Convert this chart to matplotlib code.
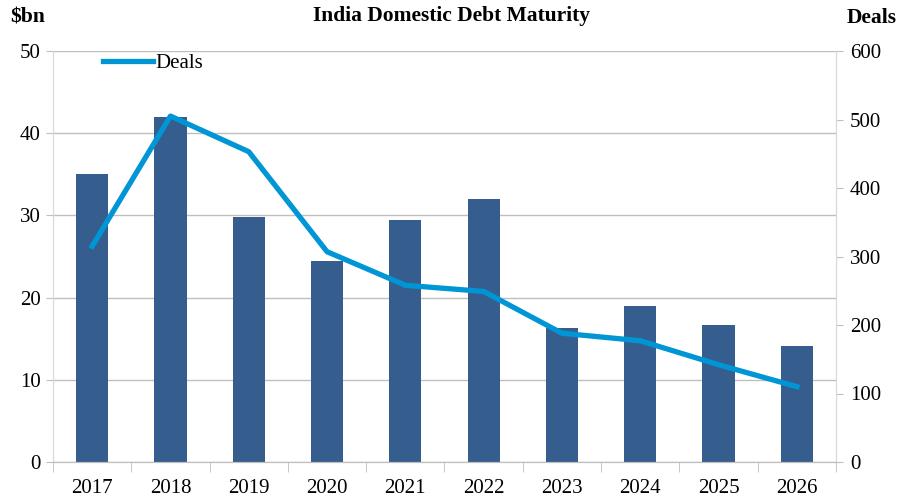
import matplotlib.pyplot as plt
import numpy as np

years = ["2017", "2018", "2019", "2020", "2021", "2022", "2023", "2024", "2025", "2026"]
debt_bn = [35.0, 42.0, 29.8, 24.4, 29.5, 32.0, 16.3, 19.0, 16.7, 14.1]
deals = [315, 505, 453, 307, 258, 249, 188, 177, 142, 110]

BAR_COLOR = "#355E8F"
LINE_COLOR = "#0096D6"
GRID_COLOR = "#BFBFBF"

plt.rcParams['font.family'] = ['Liberation Serif', 'DejaVu Serif']

fig = plt.figure(figsize=(9.03, 5.03), dpi=100)
ax = fig.add_axes([53 / 903, 1 - 462 / 503, (836 - 53) / 903, (462 - 51) / 503])
ax2 = ax.twinx()

x = np.arange(len(years))
ax.bar(x, debt_bn, width=0.41, color=BAR_COLOR, zorder=2)
ax.set_ylim(0, 50)
ax.set_xlim(-0.5, len(years) - 0.5)
ax.set_yticks(range(0, 51, 10))
ax.yaxis.grid(True, color=GRID_COLOR, linewidth=1)
ax.set_axisbelow(True)
ax.set_xticks(x)
ax.set_xticklabels(years)
ax.set_xticks(np.arange(-0.5, len(years), 1), minor=True)
ax.tick_params(axis='x', which='major', length=0, pad=12, labelsize=15)
ax.tick_params(axis='x', which='minor', length=7, color=GRID_COLOR, direction='out')
ax.tick_params(axis='y', length=5, color=GRID_COLOR, labelsize=15, pad=4)

ax2.plot(x, deals, color=LINE_COLOR, linewidth=3.8, solid_joinstyle='round', label="Deals", zorder=3)
ax2.set_ylim(0, 600)
ax2.set_yticks(range(0, 601, 100))
ax2.tick_params(axis='y', length=5, color=GRID_COLOR, labelsize=15, pad=5)

for a in (ax, ax2):
    a.spines['top'].set_visible(False)
    a.spines['left'].set_color("#D9D9D9")
    a.spines['right'].set_color("#D9D9D9")
    a.spines['bottom'].set_color(GRID_COLOR)

leg = ax2.legend(loc='upper left', bbox_to_anchor=(0.04, 1.04), frameon=False,
                 fontsize=15, handlelength=2.4, handletextpad=0.1)

fig.text(0.5, 0.968, "India Domestic Debt Maturity", ha='center', va='center',
         fontsize=15.5, fontweight='bold')
fig.text(10 / 903, 0.965, "$bn", ha='left', va='center', fontsize=15.5, fontweight='bold')
fig.text(897 / 903, 0.965, "Deals", ha='right', va='center', fontsize=15.5, fontweight='bold')

fig.savefig("out.png", dpi=100)
